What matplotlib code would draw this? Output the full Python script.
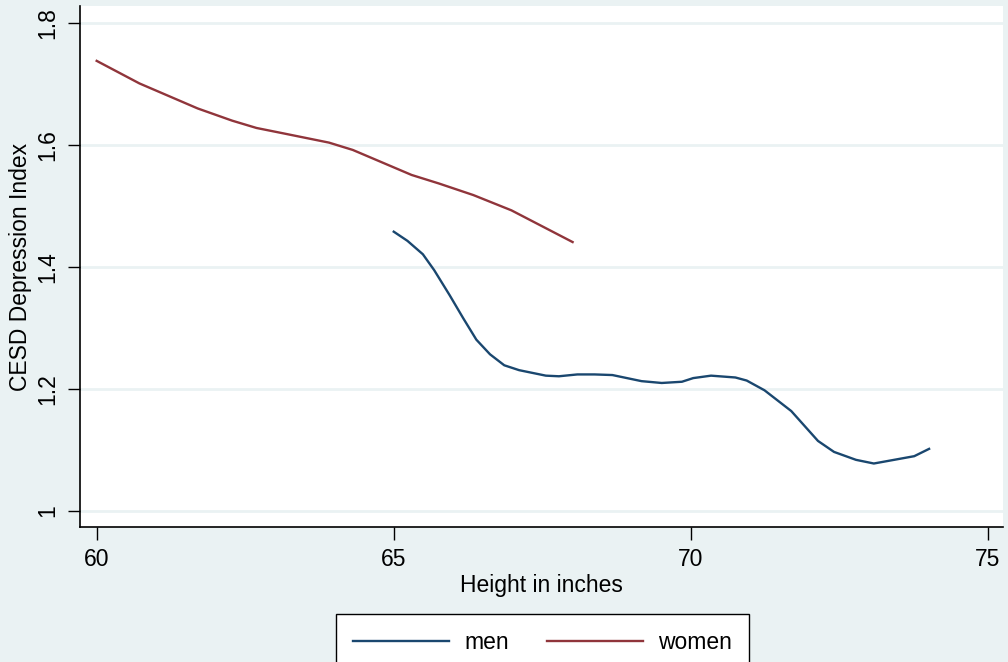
import matplotlib
matplotlib.use("Agg")
import matplotlib.pyplot as plt

# lowess-like curves
men_height = [65.00, 65.23, 65.49, 65.68, 65.94, 66.17, 66.39, 66.62, 66.86, 67.11,
              67.56, 67.78, 68.09, 68.38, 68.68, 69.17, 69.51, 69.85, 70.04, 70.34,
              70.75, 70.94, 71.24, 71.69, 72.14, 72.41, 72.78, 73.08, 73.42, 73.76, 74.01]
men_cesd = [1.458, 1.443, 1.421, 1.395, 1.354, 1.316, 1.281, 1.257, 1.239, 1.231,
            1.222, 1.221, 1.224, 1.224, 1.223, 1.213, 1.210, 1.212, 1.218, 1.222,
            1.219, 1.214, 1.198, 1.164, 1.115, 1.097, 1.084, 1.078, 1.084, 1.090, 1.102]

women_height = [60.00, 60.72, 61.70, 62.28, 62.69, 63.15, 63.91, 64.31, 65.30, 65.76,
                66.34, 66.98, 68.01]
women_cesd = [1.738, 1.701, 1.660, 1.640, 1.628, 1.619, 1.604, 1.592, 1.551, 1.537,
              1.518, 1.493, 1.441]

x_ticks = [60, 65, 70, 75]
y_ticks = [1.0, 1.2, 1.4, 1.6, 1.8]
y_labels = ["1", "1.2", "1.4", "1.6", "1.8"]

BG = "#EAF2F3"
MEN = "#1A476F"
WOMEN = "#90353B"

plt.rcParams["font.family"] = ["Liberation Sans", "DejaVu Sans"]

fig = plt.figure(figsize=(10.08, 6.62), dpi=100, facecolor=BG)
ax = fig.add_axes([0.0794, 0.204, 0.916, 0.787])
ax.set_facecolor("white")

ax.plot(men_height, men_cesd, color=MEN, lw=1.7, label="men")
ax.plot(women_height, women_cesd, color=WOMEN, lw=1.7, label="women")

ax.set_xlim(59.72, 75.26)
ax.set_ylim(0.974, 1.828)
ax.set_xticks(x_ticks)
ax.set_yticks(y_ticks)
ax.set_yticklabels(y_labels, rotation=90, va="center")
ax.yaxis.grid(True, color=BG, lw=2)
ax.set_axisbelow(True)

for s in ["top", "right"]:
    ax.spines[s].set_visible(False)
for s in ["left", "bottom"]:
    ax.spines[s].set_color("black")
    ax.spines[s].set_linewidth(1.2)

ax.tick_params(axis="both", labelsize=16.5, length=9, width=1, color="black", pad=6)
ax.set_xlabel("Height in inches", fontsize=16.5, labelpad=2)
ax.set_ylabel("CESD Depression Index", fontsize=16.5, labelpad=3)

leg = fig.legend(loc="upper center", bbox_to_anchor=(0.538, 0.0725), ncol=2,
                 fontsize=16.5, frameon=True, fancybox=False, edgecolor="black",
                 framealpha=1, handlelength=4.2, columnspacing=1.65,
                 borderpad=0.75, handletextpad=0.65, borderaxespad=0)
leg.get_frame().set_linewidth(1.0)

fig.savefig("out.png", dpi=100, facecolor=BG)
